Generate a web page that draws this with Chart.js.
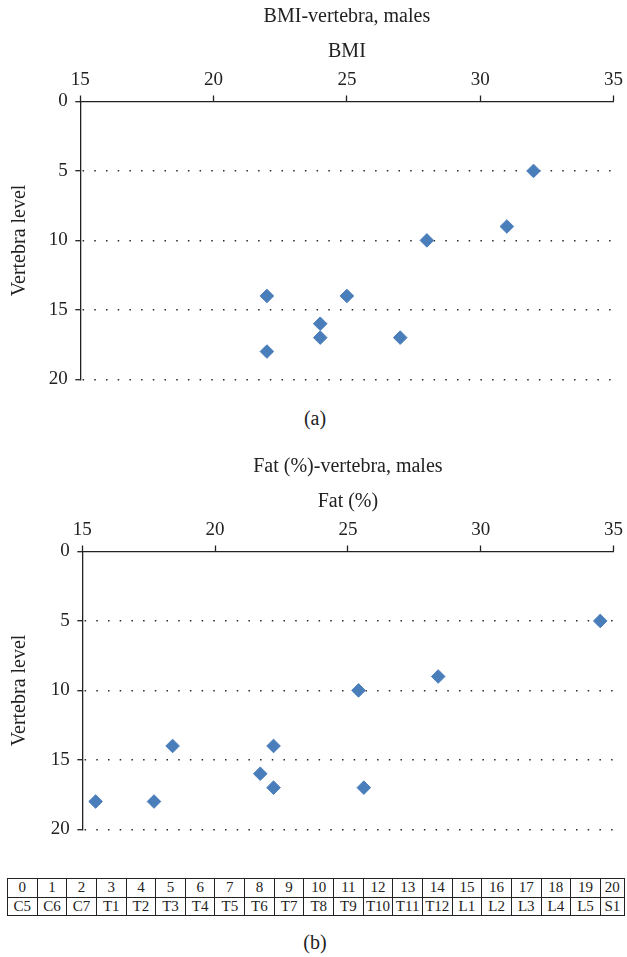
<!DOCTYPE html>
<html>
<head>
<meta charset="utf-8">
<script src="https://cdn.jsdelivr.net/npm/chart.js@4"></script>
<style>
  body { margin: 0; background: #fff; width: 627px; height: 957px; position: relative; overflow: hidden; font-family: "Liberation Serif", serif; color: #222; }
  canvas { position: absolute; left: 0; }
  .caption { position: absolute; left: 0; width: 630px; text-align: center; font-size: 20px; line-height: 24px; }
  table { position: absolute; left: 7px; top: 878px; border-collapse: collapse; table-layout: fixed; font-size: 15px; }
  td { border: 1.5px solid #222; text-align: center; padding: 0; height: 17.5px; line-height: 17.5px; }
</style>
</head>
<body>
<canvas id="bmiChart" width="627" height="400" style="top:0"></canvas>
<div class="caption" style="top:406px">(a)</div>
<canvas id="fatChart" width="627" height="400" style="top:449.5px"></canvas>
<table id="levels"></table>
<div class="caption" style="top:930px">(b)</div>

<script>
// BMI vs vertebra level (males)
const bmiValues = [32, 31, 28, 22, 25, 24, 24, 27, 22];
const bmiLevels = [5, 9, 10, 14, 14, 16, 17, 17, 18];

// fat % vs vertebra level (males)
const fatValues = [34.5, 28.4, 25.4, 18.4, 22.2, 21.7, 22.2, 25.6, 15.5, 17.7];
const fatLevels = [5, 9, 10, 14, 14, 16, 17, 17, 18, 18];

// legend table: level number -> vertebra
const levelNumbers = ['0', '1', '2', '3', '4', '5', '6', '7', '8', '9', '10', '11', '12', '13', '14', '15', '16', '17', '18', '19', '20'];
const vertebraNames = ['C5', 'C6', 'C7', 'T1', 'T2', 'T3', 'T4', 'T5', 'T6', 'T7', 'T8', 'T9', 'T10', 'T11', 'T12', 'L1', 'L2', 'L3', 'L4', 'L5', 'S1'];

const xTicks = [15, 20, 25, 30, 35];
const yTicks = [0, 5, 10, 15, 20];

const serif = '"Liberation Serif", "Times New Roman", serif';
const markerColor = '#4a7ebb';

function toPoints(xs, ys) {
  return xs.map((x, i) => ({ x: x, y: ys[i] }));
}

// build a scatter chart config, axis on top and level axis reversed
function scatterConfig(title, xTitle, xs, ys, yAxisWidth) {
  return {
    type: 'scatter',
    data: {
      datasets: [{
        data: toPoints(xs, ys),
        pointStyle: 'rectRot',
        pointRadius: 6.8,
        backgroundColor: markerColor,
        borderColor: markerColor,
        borderWidth: 1
      }]
    },
    options: {
      responsive: false,
      animation: false,
      devicePixelRatio: 1,
      layout: { padding: { left: 0, right: 12.5, top: 0, bottom: 20.7 } },
      plugins: {
        legend: { display: false },
        tooltip: { enabled: false },
        title: {
          display: true,
          text: title,
          fullSize: false,
          color: '#222',
          font: { family: serif, size: 20, weight: 'normal' },
          padding: { top: 4.5, bottom: 6 }
        }
      },
      scales: {
        x: {
          type: 'linear',
          position: 'top',
          min: 15,
          max: 35,
          afterBuildTicks: scale => { scale.ticks = xTicks.map(v => ({ value: v })); },
          afterFit: scale => { scale.height = 67; },
          ticks: { color: '#222', padding: 4, font: { family: serif, size: 19 } },
          grid: { drawOnChartArea: false, drawTicks: true, tickLength: 6, tickColor: '#222', tickWidth: 1.3, color: '#222' },
          border: { display: true, color: '#222', width: 1.3 },
          title: { display: true, text: xTitle, color: '#222', font: { family: serif, size: 20 }, padding: { top: 5, bottom: 0 } }
        },
        y: {
          type: 'linear',
          min: 0,
          max: 20,
          reverse: true,
          afterBuildTicks: scale => { scale.ticks = yTicks.map(v => ({ value: v })); },
          afterFit: scale => { scale.width = yAxisWidth; },
          ticks: { color: '#222', padding: 7.5, font: { family: serif, size: 19 } },
          grid: {
            color: c => (c.tick && c.tick.value === 0) ? 'rgba(0,0,0,0)' : '#2a2a2a',
            lineWidth: 1.4,
            tickLength: 5,
            tickColor: '#222',
            tickWidth: 1.3,
            tickBorderDash: []
          },
          border: { display: true, color: '#222', width: 1.3, dash: [1.5, 10.2], dashOffset: 10.4 },
          title: { display: true, text: 'Vertebra level', color: '#222', font: { family: serif, size: 20 }, padding: { top: 8, bottom: 0 } }
        }
      }
    }
  };
}

new Chart(document.getElementById('bmiChart'), scatterConfig('BMI-vertebra, males', 'BMI', bmiValues, bmiLevels, 80.3));
new Chart(document.getElementById('fatChart'), scatterConfig('Fat (%)-vertebra, males', 'Fat (%)', fatValues, fatLevels, 82.3));

// level legend table
const table = document.getElementById('levels');
const colgroup = document.createElement('colgroup');
levelNumbers.forEach((n, i) => {
  const col = document.createElement('col');
  col.style.width = (i === levelNumbers.length - 1 ? 24 : 29.65) + 'px';
  colgroup.appendChild(col);
});
table.appendChild(colgroup);
[levelNumbers, vertebraNames].forEach(row => {
  const tr = document.createElement('tr');
  row.forEach(text => {
    const td = document.createElement('td');
    td.textContent = text;
    tr.appendChild(td);
  });
  table.appendChild(tr);
});
</script>
</body>
</html>
